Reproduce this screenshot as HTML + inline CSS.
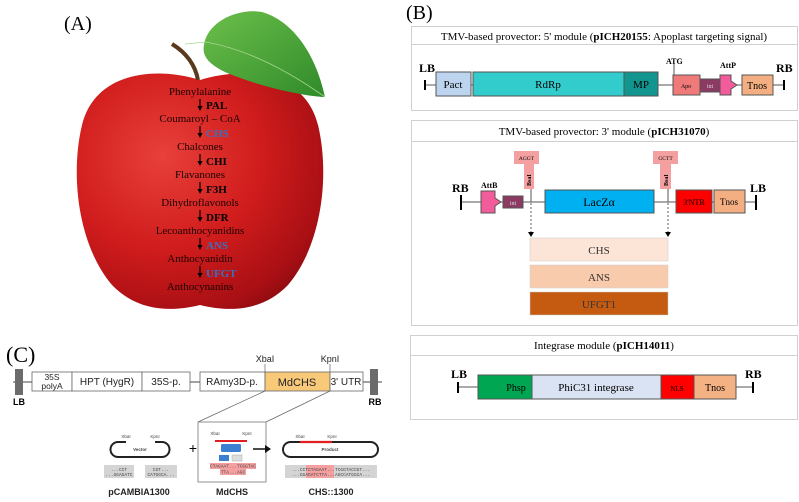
<!DOCTYPE html>
<html><head><meta charset="utf-8"><style>
html,body{margin:0;padding:0;background:#fff;}
svg{display:block;}
.s{font-family:"Liberation Serif",serif;}
.a{font-family:"Liberation Sans",sans-serif;}
</style></head><body>
<svg width="799" height="502" viewBox="0 0 799 502" xmlns="http://www.w3.org/2000/svg">
<defs>
<radialGradient id="ap" cx="0.35" cy="0.35" r="0.8">
<stop offset="0" stop-color="#e8403a"/><stop offset="0.5" stop-color="#d01c1c"/><stop offset="0.85" stop-color="#a80f14"/><stop offset="1" stop-color="#800a0e"/>
</radialGradient>
<linearGradient id="lf" x1="0" y1="0" x2="1" y2="1"><stop offset="0" stop-color="#6cc04a"/><stop offset="1" stop-color="#2f8a2a"/></linearGradient>
</defs>
<!-- Panel A -->
<text x="64" y="30" class="s" font-size="20">(A)</text>
<path d="M200,80 C245,66 305,72 318,125 C330,175 322,245 288,285 C262,312 228,312 200,305 C172,312 138,312 112,285 C78,245 70,175 82,125 C95,72 155,66 200,80 Z" fill="url(#ap)"/>
<path d="M172,44 C185,52 195,64 198,80" stroke="#5a3a1e" stroke-width="4" fill="none"/>
<path d="M204,45 C208,20 240,8 262,12 C290,20 315,50 325,97 C300,96 255,85 225,72 C207,63 202,55 204,45 Z" fill="url(#lf)"/>
<path d="M185,44 L206,42 C250,50 290,72 325,97" stroke="#a8d890" stroke-width="0.8" fill="none"/>
<g class="s" font-size="11" fill="#1a0000" text-anchor="middle">
<text x="200" y="95">Phenylalanine</text>
<text x="200" y="122">Coumaroyl – CoA</text>
<text x="200" y="150">Chalcones</text>
<text x="200" y="178">Flavanones</text>
<text x="200" y="206">Dihydroflavonols</text>
<text x="200" y="234">Lecoanthocyanidins</text>
<text x="200" y="262">Anthocyanidin</text>
<text x="200" y="290">Anthocynanins</text>
</g>
<g stroke="#000" stroke-width="1.2">
<line x1="200" y1="99" x2="200" y2="107"/><line x1="200" y1="126" x2="200" y2="134"/><line x1="200" y1="154" x2="200" y2="162"/><line x1="200" y1="182" x2="200" y2="190"/><line x1="200" y1="210" x2="200" y2="218"/><line x1="200" y1="238" x2="200" y2="246"/><line x1="200" y1="266" x2="200" y2="274"/>
</g>
<g fill="#000">
<path d="M197.5,106 L202.5,106 L200,111 z"/><path d="M197.5,133 L202.5,133 L200,138 z"/><path d="M197.5,161 L202.5,161 L200,166 z"/><path d="M197.5,189 L202.5,189 L200,194 z"/><path d="M197.5,217 L202.5,217 L200,222 z"/><path d="M197.5,245 L202.5,245 L200,250 z"/><path d="M197.5,273 L202.5,273 L200,278 z"/>
</g>
<g class="s" font-size="11" font-weight="bold">
<text x="206" y="109">PAL</text><text x="206" y="137" fill="#3a6fc0">CHS</text><text x="206" y="165">CHI</text><text x="206" y="193">F3H</text><text x="206" y="221">DFR</text><text x="206" y="249" fill="#3a6fc0">ANS</text><text x="206" y="277" fill="#3a6fc0">UFGT</text>
</g>
<!-- Panel B -->
<text x="406" y="19" class="s" font-size="20">(B)</text>
<g fill="none" stroke="#d0d0d0" stroke-width="1">
<rect x="411.5" y="26.5" width="386" height="84"/><line x1="411" y1="44.5" x2="798" y2="44.5"/>
<rect x="411.5" y="120.5" width="386" height="205"/><line x1="411" y1="141.5" x2="798" y2="141.5"/>
<rect x="410.5" y="335.5" width="387" height="84"/><line x1="410" y1="355.5" x2="798" y2="355.5"/>
</g>
<g class="s" font-size="11" text-anchor="middle">
<text x="604" y="40">TMV-based provector: 5' module (<tspan font-weight="bold">pICH20155</tspan>: Apoplast targeting signal)</text>
<text x="604" y="135">TMV-based provector: 3' module (<tspan font-weight="bold">pICH31070</tspan>)</text>
<text x="604" y="349">Integrase module (<tspan font-weight="bold">pICH14011</tspan>)</text>
</g>
<!-- module 1 -->
<g stroke="#555" stroke-width="1">
<line x1="425" y1="85" x2="783" y2="85"/>
<line x1="425" y1="80" x2="425" y2="90" stroke="#000" stroke-width="2"/><line x1="784" y1="80" x2="784" y2="90" stroke="#000" stroke-width="2"/>
<rect x="436" y="72" width="35" height="24" fill="#bcd4ee"/>
<rect x="473" y="72" width="151" height="24" fill="#33cccc"/>
<rect x="624" y="72" width="34" height="24" fill="#13958f"/>
<rect x="673" y="75" width="27" height="20" fill="#f07a7a"/>
<rect x="700" y="79" width="20" height="13" fill="#8b3a62"/>
<path d="M720,75 L731,75 L731,81 L737,85 L731,89 L731,95 L720,95 Z" fill="#f25c9a"/>
<rect x="742" y="75" width="31" height="20" fill="#f3ae82"/>
<line x1="674" y1="64" x2="674" y2="75"/>
</g>
<g class="s" font-size="12" font-weight="bold"><text x="419" y="72">LB</text><text x="776" y="72">RB</text></g>
<g class="s" font-size="8" font-weight="bold"><text x="666" y="64">ATG</text><text x="720" y="68">AttP</text></g>
<g class="s" text-anchor="middle">
<text x="453" y="88" font-size="11">Pact</text><text x="548" y="88" font-size="11">RdRp</text><text x="641" y="88" font-size="11">MP</text>
<text x="686" y="88" font-size="6">Apo</text><text x="710" y="88" font-size="6" fill="#ddd">int</text><text x="757" y="89" font-size="10">Tnos</text>
</g>
<!-- module 2 -->
<g stroke="#555" stroke-width="1">
<line x1="461" y1="202" x2="756" y2="202"/>
<line x1="461" y1="195" x2="461" y2="210" stroke="#000" stroke-width="2"/><line x1="756" y1="195" x2="756" y2="210" stroke="#000" stroke-width="2"/>
<path d="M481,191 L495,191 L495,198 L501,202 L495,206 L495,213 L481,213 Z" fill="#f25c9a"/>
<rect x="503" y="196" width="20" height="12" fill="#8b3a62"/>
<rect x="545" y="190" width="109" height="23" fill="#00b0f0"/>
<rect x="676" y="190" width="36" height="23" fill="#ff0000"/>
<rect x="714" y="190" width="31" height="23" fill="#f3ae82"/>
<line x1="531" y1="189" x2="531" y2="202"/><line x1="668" y1="189" x2="668" y2="202"/>
</g>
<g fill="#f4a0a0"><rect x="514" y="151" width="25" height="13"/><rect x="524" y="163" width="10" height="26"/><rect x="653" y="151" width="25" height="13"/><rect x="660" y="163" width="11" height="26"/></g>
<g class="s" font-size="5.5" text-anchor="middle"><text x="526.5" y="160">AGGT</text><text x="665.5" y="160">GCTT</text></g>
<g class="s" font-size="6" font-weight="bold"><text transform="translate(531,186) rotate(-90)">BsaI</text><text transform="translate(668,186) rotate(-90)">BsaI</text></g>
<g stroke="#333" stroke-width="0.8" stroke-dasharray="2,2"><line x1="531" y1="203" x2="531" y2="232"/><line x1="668" y1="203" x2="668" y2="232"/></g>
<path d="M528,232 L534,232 L531,237 z M665,232 L671,232 L668,237 z" fill="#000"/>
<g class="s" font-size="12" font-weight="bold"><text x="452" y="192">RB</text><text x="750" y="192">LB</text></g>
<text x="481" y="188" class="s" font-size="8" font-weight="bold">AttB</text>
<g class="s" text-anchor="middle">
<text x="513" y="205" font-size="6" fill="#ddd">int</text>
<text x="599" y="206" font-size="12">LacZα</text>
<text x="694" y="205" font-size="8">3'NTR</text>
<text x="729" y="205" font-size="9">Tnos</text>
</g>
<g stroke="#ccc" stroke-width="0.5">
<rect x="530" y="238" width="138" height="23" fill="#fce4d6"/>
<rect x="530" y="265" width="138" height="23" fill="#f8cbad"/>
<rect x="530" y="292" width="138" height="23" fill="#c55a11"/>
</g>
<g class="s" font-size="11" text-anchor="middle" fill="#333"><text x="599" y="254">CHS</text><text x="599" y="281">ANS</text><text x="599" y="308">UFGT1</text></g>
<!-- module 3 -->
<g stroke="#555" stroke-width="1">
<line x1="458" y1="387" x2="753" y2="387"/>
<line x1="458" y1="382" x2="458" y2="393" stroke="#000" stroke-width="2"/><line x1="753" y1="382" x2="753" y2="393" stroke="#000" stroke-width="2"/>
<rect x="478" y="375" width="54" height="24" fill="#00a651"/>
<rect x="532" y="375" width="129" height="24" fill="#dae3f3"/>
<rect x="661" y="375" width="33" height="24" fill="#ff0000"/>
<rect x="694" y="375" width="42" height="24" fill="#f4b183"/>
</g>
<g class="s" font-size="12" font-weight="bold"><text x="451" y="378">LB</text><text x="745" y="378">RB</text></g>
<g class="s" text-anchor="middle">
<text x="516" y="391" font-size="10">Phsp</text><text x="596" y="391" font-size="11">PhiC31 integrase</text><text x="677" y="391" font-size="7">NLS</text><text x="715" y="391" font-size="10">Tnos</text>
</g>
<!-- Panel C -->
<text x="6" y="362" class="s" font-size="22">(C)</text>
<line x1="13" y1="382" x2="382" y2="382" stroke="#444" stroke-width="1"/>
<rect x="15" y="369" width="8" height="26" fill="#6b6b6b"/><rect x="370" y="369" width="8" height="26" fill="#6b6b6b"/>
<g stroke="#666" stroke-width="0.8" fill="#fff">
<rect x="32" y="372" width="40" height="19"/><rect x="72" y="372" width="70" height="19"/><rect x="142" y="372" width="48" height="19"/>
<rect x="200" y="372" width="65" height="19"/><rect x="265" y="372" width="65" height="19" fill="#f9c97a"/><rect x="330" y="372" width="33" height="19"/>
</g>
<g class="a" font-size="10" text-anchor="middle" fill="#222">
<text x="52" y="380" font-size="8.5">35S</text><text x="52" y="389" font-size="8.5">polyA</text>
<text x="107" y="385">HPT (HygR)</text><text x="166" y="385">35S-p.</text><text x="232" y="385">RAmy3D-p.</text><text x="297" y="386" font-size="11">MdCHS</text><text x="346" y="385">3' UTR</text>
<text x="265" y="362" font-size="9">XbaI</text><text x="330" y="362" font-size="9">KpnI</text>
</g>
<g class="a" font-size="9" font-weight="bold" text-anchor="middle"><text x="19" y="405">LB</text><text x="375" y="405">RB</text></g>
<g stroke="#666" stroke-width="0.7"><line x1="265" y1="364" x2="265" y2="372"/><line x1="330" y1="364" x2="330" y2="372"/><line x1="265" y1="391" x2="198" y2="422"/><line x1="330" y1="391" x2="266" y2="422"/></g>
<rect x="198" y="422" width="68" height="60" fill="#fff" stroke="#777" stroke-width="0.8"/>
<path d="M126,442 L118,442 A7.5,7.5 0 0 0 118,457 L162,457 A7.5,7.5 0 0 0 162,442 L155,442" fill="none" stroke="#222" stroke-width="2"/>
<rect x="283" y="442" width="95" height="15" rx="7.5" fill="none" stroke="#222" stroke-width="2"/>
<line x1="300" y1="442" x2="332" y2="442" stroke="#e02020" stroke-width="2.2"/>
<line x1="215" y1="441" x2="247" y2="441" stroke="#e02020" stroke-width="2"/>
<rect x="221" y="444" width="20" height="8" rx="1.5" fill="#3a7fd0"/>
<rect x="219" y="455" width="10" height="6" fill="#3a7fd0"/><rect x="232" y="455" width="10" height="6" fill="#ddd" stroke="#999" stroke-width="0.4"/>
<rect x="210" y="463" width="46" height="6" fill="#f4a0a0"/><rect x="220" y="469" width="26" height="6" fill="#f4a0a0"/>
<g fill="#d4d4d4"><rect x="104" y="465" width="30" height="13"/><rect x="145" y="465" width="32" height="13"/><rect x="285" y="465" width="92" height="13"/></g>
<rect x="306" y="465" width="28" height="13" fill="#f4a0a0"/>
<g class="a" font-size="4.5" fill="#444" text-anchor="middle">
<text x="140" y="451" font-weight="bold">Vector</text><text x="330" y="451" font-weight="bold">Product</text>
<text x="126" y="438">XbaI</text><text x="155" y="438">KpnI</text><text x="300" y="438">XbaI</text><text x="332" y="438">KpnI</text>
<text x="215" y="435">XbaI</text><text x="247" y="435">KpnI</text>
<text x="119" y="471" font-family="Liberation Mono">...CCT</text><text x="119" y="476" font-family="Liberation Mono">...GGAGATC</text>
<text x="161" y="471" font-family="Liberation Mono">CGT...</text><text x="161" y="476" font-family="Liberation Mono">CATGGCA...</text>
<text x="233" y="467.5" font-family="Liberation Mono">CTAGAAT...TCGGTAC</text><text x="233" y="473.5" font-family="Liberation Mono">TTA...AGC</text>
<text x="331" y="471" font-family="Liberation Mono">...CCTCTAGAAT...TCGGTACCGT...</text><text x="331" y="476" font-family="Liberation Mono">...GGAGATCTTA...AGCCATGGCA...</text>
</g>
<text x="193" y="453" class="a" font-size="14" text-anchor="middle">+</text>
<line x1="253" y1="449" x2="266" y2="449" stroke="#111" stroke-width="1.5"/><path d="M265,445 L271,449 L265,453 z" fill="#111"/>
<g class="a" font-size="9" font-weight="bold" text-anchor="middle" fill="#222"><text x="139" y="495">pCAMBIA1300</text><text x="232" y="495">MdCHS</text><text x="331" y="495">CHS::1300</text></g>
</svg>
</body></html>
